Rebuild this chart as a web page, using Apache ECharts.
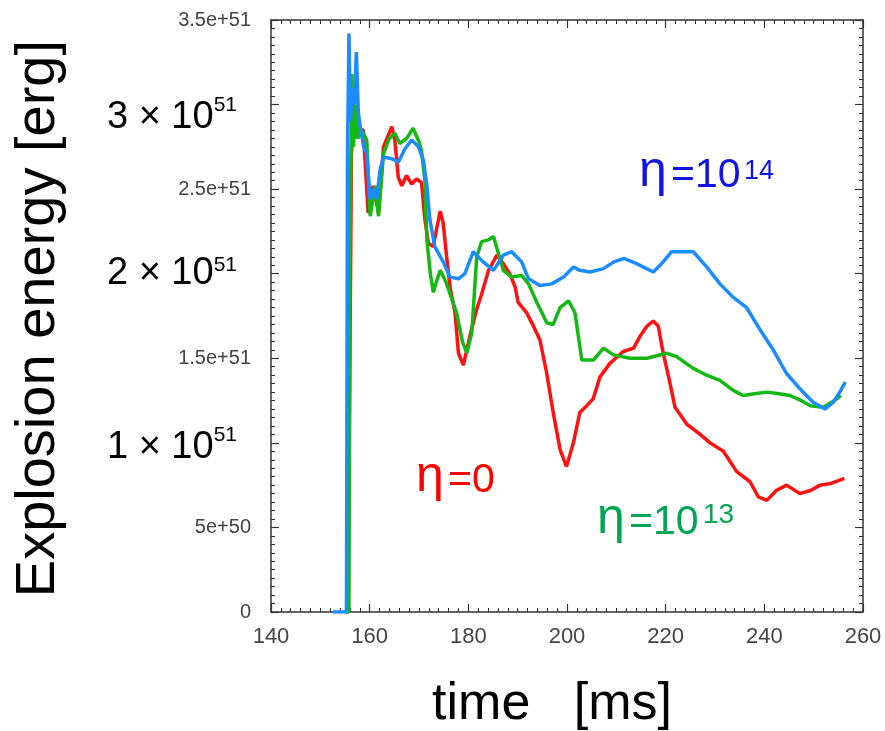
<!DOCTYPE html>
<html>
<head>
<meta charset="utf-8">
<script src="https://cdn.jsdelivr.net/npm/echarts@6/dist/echarts.min.js"></script>
<style>
html,body{margin:0;padding:0;background:#fff;}
#chart{width:885px;height:731px;}
</style>
</head>
<body>
<div id="chart"></div>
<script>
// Explosion energy in units of 1e51 erg vs time [ms]
const etaZero = [[155.0,0],[155.6,0],[156.0,1.5],[156.3,2.7],[156.7,3.0],[157.1,2.8],[157.6,2.87],[158.2,2.85],[158.7,2.85],[159.2,2.6],[159.7,2.36],[160.7,2.52],[161.8,2.36],[162.8,2.75],[164.5,2.87],[165.1,2.79],[165.8,2.57],[166.5,2.52],[167.5,2.58],[168.5,2.53],[169.5,2.56],[170.5,2.54],[171.2,2.32],[171.9,2.18],[172.9,2.16],[173.6,2.27],[174.3,2.37],[174.9,2.30],[175.6,2.10],[176.3,1.92],[177.3,1.77],[178.0,1.53],[179.0,1.46],[180.3,1.63],[181.7,1.79],[182.7,1.88],[184.1,2.02],[185.8,2.11],[187.1,2.06],[188.4,2.00],[189.5,1.92],[190.1,1.83],[191.8,1.77],[193.2,1.69],[194.5,1.61],[195.9,1.41],[197.2,1.18],[198.6,0.96],[199.9,0.86],[201.3,1.00],[202.6,1.18],[204.0,1.22],[205.3,1.26],[206.7,1.39],[208.7,1.47],[211.4,1.54],[213.5,1.56],[214.8,1.63],[216.2,1.69],[217.5,1.72],[218.5,1.69],[219.5,1.53],[220.6,1.39],[221.9,1.21],[224.3,1.11],[227.0,1.05],[229.0,1.00],[231.7,0.95],[234.4,0.83],[237.1,0.77],[238.8,0.68],[240.5,0.66],[242.5,0.72],[244.5,0.75],[247.2,0.70],[249.5,0.72],[251.3,0.75],[253.5,0.76],[255.3,0.78],[256.2,0.79]];

const eta1e13 = [[155.0,0],[155.8,0],[156.0,2.2],[156.4,3.18],[156.7,2.75],[157.2,3.0],[157.6,2.8],[158.4,2.85],[159.4,2.79],[160.1,2.34],[161.1,2.52],[161.8,2.34],[162.8,2.71],[164.0,2.80],[165.1,2.83],[166.1,2.77],[167.5,2.80],[168.8,2.86],[170.0,2.78],[170.5,2.73],[171.2,2.55],[171.6,2.2],[172.3,2.0],[172.9,1.89],[173.5,1.95],[174.3,2.02],[175.0,1.98],[175.6,1.94],[177.6,1.77],[178.8,1.60],[179.7,1.53],[180.7,1.65],[181.7,2.10],[182.7,2.19],[184.1,2.20],[185.1,2.22],[186.1,2.12],[187.1,2.02],[188.8,1.98],[190.8,1.99],[192.2,1.94],[193.9,1.83],[195.9,1.71],[197.2,1.70],[198.6,1.80],[200.3,1.84],[201.6,1.77],[203.0,1.49],[205.4,1.49],[207.4,1.56],[209.4,1.52],[212.8,1.50],[216.2,1.50],[220.2,1.53],[222.2,1.51],[225.6,1.44],[228.3,1.40],[231.0,1.37],[233.7,1.31],[235.7,1.28],[238.0,1.29],[240.5,1.30],[243.0,1.29],[245.2,1.28],[247.5,1.25],[249.3,1.22],[252.0,1.21],[254.7,1.26],[255.5,1.28]];

const eta1e14 = [[152.5,0],[155.3,0],[155.5,2.7],[155.8,3.42],[156.1,2.9],[156.5,3.1],[156.9,3.0],[157.3,3.31],[157.7,2.95],[158.2,2.85],[158.8,2.75],[159.4,2.71],[160.1,2.44],[160.7,2.50],[161.4,2.44],[162.1,2.61],[162.8,2.69],[164.5,2.68],[165.8,2.66],[167.2,2.74],[168.5,2.79],[169.9,2.75],[170.9,2.67],[171.6,2.52],[172.2,2.32],[173.2,2.16],[174.9,2.07],[176.3,1.98],[178.0,1.97],[179.3,2.00],[181.0,2.13],[183.0,2.07],[185.1,2.02],[187.1,2.11],[188.8,2.13],[190.8,2.07],[192.2,1.97],[194.5,1.93],[196.9,1.94],[199.3,1.98],[201.3,2.04],[202.6,2.02],[204.7,2.01],[207.4,2.03],[209.5,2.07],[211.5,2.09],[214.1,2.06],[217.5,2.01],[219.2,2.06],[221.2,2.13],[225.6,2.13],[228.3,2.04],[231.0,1.94],[233.7,1.86],[236.4,1.80],[239.1,1.67],[241.8,1.55],[244.5,1.41],[247.2,1.32],[249.9,1.24],[252.3,1.20],[254.0,1.24],[255.5,1.31],[256.4,1.36]];

const xTicks = [140, 160, 180, 200, 220, 240, 260];
const yTicks = [0, 0.5, 1, 1.5, 2, 2.5, 3, 3.5];
const yTickLabels = ['0', '5e+50', '1|51', '1.5e+51', '2|51', '2.5e+51', '3|51', '3.5e+51'];

const FONT = '"Liberation Sans", Arial, sans-serif';
const chart = echarts.init(document.getElementById('chart'), null, {renderer: 'canvas'});

function yFmt(v) {
  const i = yTicks.findIndex(t => Math.abs(t - v) < 1e-9);
  if (i < 0) return '';
  const lab = yTickLabels[i];
  if (lab.indexOf('|') >= 0) {
    const [m, e] = lab.split('|');
    const key = m === '3' ? 'b3' : (m === '1' ? 'b1' : 'b2');
    return '{' + key + '|' + m + ' \u00d7 10}{s' + key.slice(1) + '|' + e + '}';
  }
  return '{sm|' + lab + '}';
}

const frame = () => ({show: true, onZero: false, lineStyle: {color: '#333', width: 1.5}});
const tick = () => ({show: true, inside: true, length: 8, lineStyle: {color: '#333', width: 1.2}});
const minor = () => ({show: true, splitNumber: 10, length: 4, lineStyle: {color: '#333', width: 1}});

const option = {
  backgroundColor: '#fff',
  animation: false,
  grid: {left: 271, right: 22, top: 20, bottom: 119, containLabel: false},
  xAxis: [{
    type: 'value', min: 140, max: 260, interval: 20, position: 'bottom',
    axisLine: frame(), axisTick: tick(), minorTick: minor(),
    splitLine: {show: false}, minorSplitLine: {show: false},
    axisLabel: {color: '#444', fontSize: 22, fontFamily: FONT, margin: 14,
      formatter: v => xTicks.indexOf(v) >= 0 ? String(v) : ''}
  }, {
    type: 'value', min: 140, max: 260, interval: 20, position: 'top',
    axisLine: frame(), axisTick: tick(), minorTick: minor(),
    splitLine: {show: false}, minorSplitLine: {show: false}, axisLabel: {show: false}
  }],
  yAxis: [{
    type: 'value', min: 0, max: 3.5, interval: 0.5, position: 'left',
    axisLine: frame(), axisTick: tick(), minorTick: minor(),
    splitLine: {show: false}, minorSplitLine: {show: false},
    axisLabel: {
      formatter: yFmt, margin: 20,
      rich: {
        sm: {fontSize: 20, color: '#444', fontFamily: FONT},
        b1: {fontSize: 38, color: '#000', fontFamily: FONT, padding: [10, 0, 0, 0]},
        s1: {fontSize: 21, color: '#000', fontFamily: FONT, verticalAlign: 'top', padding: [6, 14, 0, 0]},
        b2: {fontSize: 38, color: '#000', fontFamily: FONT},
        s2: {fontSize: 21, color: '#000', fontFamily: FONT, verticalAlign: 'top', padding: [0, 14, 0, 0]},
        b3: {fontSize: 38, color: '#000', fontFamily: FONT, padding: [26, 0, 0, 0]},
        s3: {fontSize: 21, color: '#000', fontFamily: FONT, verticalAlign: 'top', padding: [22, 14, 0, 0]}
      }
    }
  }, {
    type: 'value', min: 0, max: 3.5, interval: 0.5, position: 'right',
    axisLine: frame(), axisTick: tick(), minorTick: minor(),
    splitLine: {show: false}, minorSplitLine: {show: false}, axisLabel: {show: false}
  }],
  series: [
    {name: 'η=0', type: 'line', data: etaZero, showSymbol: false, symbol: 'none',
      lineStyle: {color: '#ff1111', width: 3.5}, z: 3},
    {name: 'η=1e13', type: 'line', data: eta1e13, showSymbol: false, symbol: 'none',
      lineStyle: {color: '#14b814', width: 3.5}, z: 4},
    {name: 'η=1e14', type: 'line', data: eta1e14, showSymbol: false, symbol: 'none',
      lineStyle: {color: '#1a8cff', width: 3.5}, z: 5}
  ],
  graphic: [
    {type: 'text', left: 11, top: 40, rotation: Math.PI / 2, style: {text: 'Explosion energy [erg]', font: '56px ' + FONT, fill: '#000'}},
    {type: 'text', x: 552, y: 705, style: {text: 'time   [ms]', font: '52px ' + FONT, fill: '#000', align: 'center', verticalAlign: 'middle'}},
    {type: 'text', x: 639, y: 172, style: {text: 'η', font: '50px ' + FONT, fill: '#1414e0', verticalAlign: 'middle'}},
    {type: 'text', x: 671, y: 176, style: {text: '=10', font: '41px ' + FONT, fill: '#1414e0', verticalAlign: 'middle'}},
    {type: 'text', x: 744, y: 158, style: {text: '14', font: '27px ' + FONT, fill: '#1414e0', verticalAlign: 'top'}},
    {type: 'text', x: 416, y: 477, style: {text: 'η', font: '50px ' + FONT, fill: '#ff0000', verticalAlign: 'middle'}},
    {type: 'text', x: 448, y: 481, style: {text: '=0', font: '41px ' + FONT, fill: '#ff0000', verticalAlign: 'middle'}},
    {type: 'text', x: 597, y: 519, style: {text: 'η', font: '50px ' + FONT, fill: '#00a651', verticalAlign: 'middle'}},
    {type: 'text', x: 629, y: 523, style: {text: '=10', font: '41px ' + FONT, fill: '#00a651', verticalAlign: 'middle'}},
    {type: 'text', x: 703, y: 501, style: {text: '13', font: '28px ' + FONT, fill: '#00a651', verticalAlign: 'top'}}
  ]
};
chart.setOption(option);
</script>
</body>
</html>
